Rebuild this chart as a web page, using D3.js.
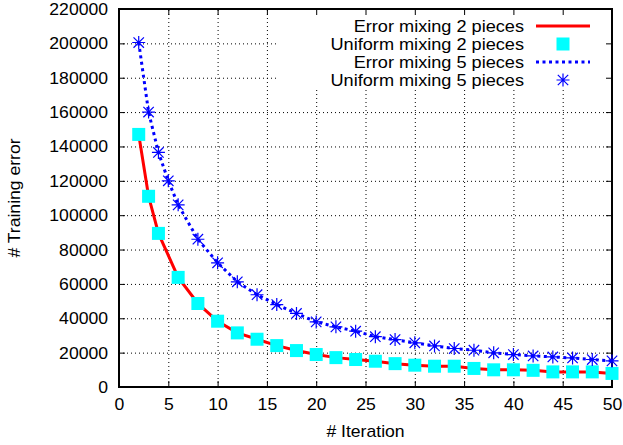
<!DOCTYPE html>
<meta charset="utf-8">
<style>
  body { margin: 0; background: #fff; }
  text { font-family: "Liberation Sans", Arial, Helvetica, sans-serif; fill: #000; }
</style>
<svg width="623" height="445"></svg>
<script src="https://d3js.org/d3.v7.min.js"></script>
<script>
// data
var iter5 = [2,3,4,5,6,8,10,12,14,16,18,20,22,24,26,28,30,32,34,36,38,40,42,44,46,48,50];
var err5 = [200500,160000,136500,120000,106000,86000,72300,61200,53700,48000,42800,37900,
            35000,32500,29300,27600,25700,23900,22400,21400,19900,18900,18100,17500,16900,16000,15200];
var iter2 = [2,3,4,6,8,10,12,14,16,18,20,22,24,26,28,30,32,34,36,38,40,42,44,46,48,50];
var err2 = [147000,111000,89400,63800,48600,38300,31500,27800,24100,21200,18900,
            17100,16000,15000,13600,12700,12100,12100,10800,10000,10000,9700,8800,8800,8800,7900];
var xTicks = [0,5,10,15,20,25,30,35,40,45,50];
var yTicks = [0,20000,40000,60000,80000,100000,120000,140000,160000,180000,200000,220000];
var legendLabels = ['Error mixing 2 pieces','Uniform mixing 2 pieces','Error mixing 5 pieces','Uniform mixing 5 pieces'];

// plot box (window.top is reserved, so no plain "top")
var pL = 119, pR = 612, pT = 9, pB = 387;
var sx = 1.1; // glyphs in the picture are a bit wide

var svg = d3.select('svg');
var x = d3.scaleLinear().domain([0, 50]).range([pL, pR]);
var y = d3.scaleLinear().domain([0, 220000]).range([pB, pT]);

// grid
var grid = svg.append('g');
grid.append('g').attr('transform', 'translate(0,' + pB + ')')
  .call(d3.axisBottom(x).tickValues(xTicks.slice(1, -1)).tickSize(-(pB - pT)).tickFormat(''));
grid.append('g').attr('transform', 'translate(' + pL + ',0)')
  .call(d3.axisLeft(y).tickValues(yTicks.slice(1, -1)).tickSize(-(pR - pL)).tickFormat(''));
grid.selectAll('.domain').remove();
grid.selectAll('line').attr('stroke', '#000').attr('stroke-width', 1).attr('stroke-dasharray', '1,3');

// key box hides the grid behind it
svg.append('rect').attr('x', 276).attr('y', pT).attr('width', pR - 276).attr('height', 88 - pT).attr('fill', '#fff');

// axes with inside ticks, mirrored
function tickAxis(axis, tx, ty, fmt) {
  var g = svg.append('g').attr('transform', 'translate(' + tx + ',' + ty + ')')
    .call(axis.tickSize(-6).tickFormat(fmt));
  g.select('.domain').remove();
  g.selectAll('line').attr('stroke', '#000').attr('stroke-width', 1);
  return g;
}
var xa = tickAxis(d3.axisBottom(x).tickValues(xTicks), 0, pB, d3.format('d'));
xa.selectAll('text').attr('y', null).attr('dy', null).attr('font-size', 16).attr('fill', '#000')
  .attr('transform', 'translate(0,23) scale(' + sx + ',1)');
tickAxis(d3.axisTop(x).tickValues(xTicks), 0, pT, '');
var ya = tickAxis(d3.axisLeft(y).tickValues(yTicks), pL, 0, d3.format('d'));
ya.selectAll('text').attr('x', null).attr('dy', null).attr('font-size', 16).attr('fill', '#000')
  .attr('transform', 'translate(-11,5.5) scale(' + sx + ',1)');
tickAxis(d3.axisRight(y).tickValues(yTicks), pR, 0, '');

svg.append('rect').attr('x', pL).attr('y', pT).attr('width', pR - pL).attr('height', pB - pT)
  .attr('fill', 'none').attr('stroke', '#000').attr('stroke-width', 2);

// axis titles
svg.append('text').attr('text-anchor', 'middle').attr('font-size', 16)
  .attr('transform', 'translate(' + (pL + pR) / 2 + ',437) scale(' + sx + ',1)').text('# Iteration');
svg.append('text').attr('text-anchor', 'middle').attr('font-size', 16)
  .attr('transform', 'translate(20,' + (pT + pB) / 2 + ') rotate(-90) scale(' + sx + ',1)').text('# Training error');

// series
var line = d3.line().x(function (d) { return x(d[0]); }).y(function (d) { return y(d[1]); });
var pts2 = d3.zip(iter2, err2), pts5 = d3.zip(iter5, err5);

svg.append('path').datum(pts2).attr('d', line).attr('fill', 'none').attr('stroke', '#ff0000').attr('stroke-width', 3);
svg.append('path').datum(pts5).attr('d', line).attr('fill', 'none').attr('stroke', '#0000ff')
  .attr('stroke-width', 3).attr('stroke-dasharray', '3,3.5');

function square(g, cx, cy) {
  g.append('rect').attr('x', cx - 6.5).attr('y', cy - 6.5).attr('width', 13).attr('height', 13).attr('fill', '#00ffff');
}
function star(g, cx, cy) {
  var r = 6.5;
  var p = 'M' + (cx - r) + ',' + cy + 'h' + 2 * r + 'M' + cx + ',' + (cy - r) + 'v' + 2 * r +
    'M' + (cx - r * 0.8) + ',' + (cy - r * 0.8) + 'l' + 1.6 * r + ',' + 1.6 * r +
    'M' + (cx - r * 0.8) + ',' + (cy + r * 0.8) + 'l' + 1.6 * r + ',' + (-1.6 * r);
  g.append('path').attr('d', p).attr('stroke', '#0000ff').attr('stroke-width', 1.2).attr('fill', 'none');
}
var marks = svg.append('g');
pts2.forEach(function (d) { square(marks, x(d[0]), y(d[1])); });
pts5.forEach(function (d) { star(marks, x(d[0]), y(d[1])); });

// key
var key = svg.append('g');
var rowY = [26, 44, 62, 80];
legendLabels.forEach(function (t, i) {
  key.append('text').attr('text-anchor', 'end').attr('font-size', 16.5)
    .attr('transform', 'translate(524,' + (rowY[i] + 6) + ') scale(' + sx + ',1)').text(t);
});
key.append('line').attr('x1', 536).attr('x2', 590).attr('y1', rowY[0]).attr('y2', rowY[0])
  .attr('stroke', '#ff0000').attr('stroke-width', 3);
square(key, 563, rowY[1]);
key.append('line').attr('x1', 536).attr('x2', 590).attr('y1', rowY[2]).attr('y2', rowY[2])
  .attr('stroke', '#0000ff').attr('stroke-width', 3).attr('stroke-dasharray', '3,3.5');
star(key, 563, rowY[3]);
</script>
